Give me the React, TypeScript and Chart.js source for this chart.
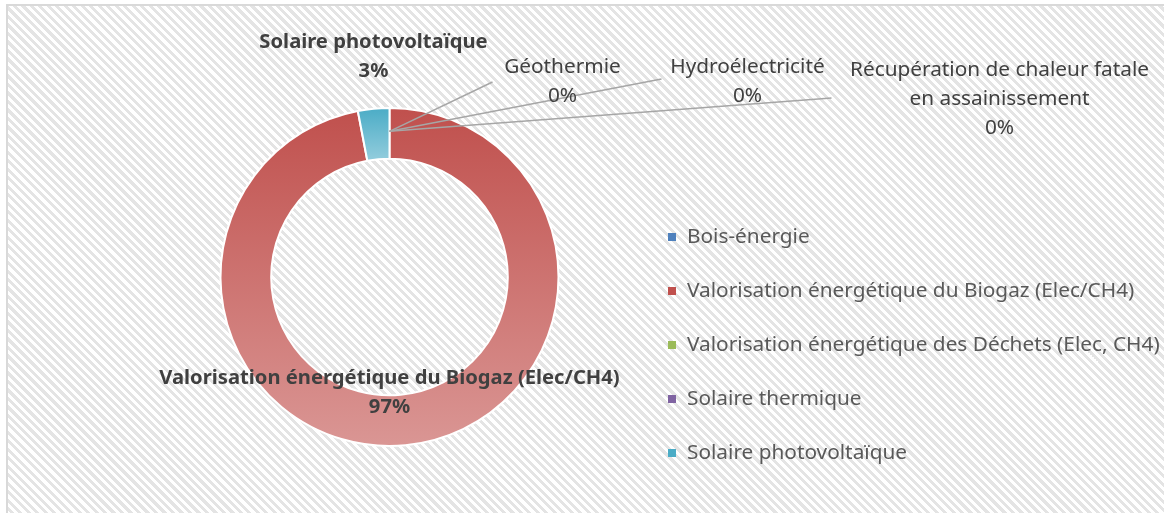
import React, { useEffect, useRef } from "react";
import { Chart, registerables } from "chart.js";

Chart.register(...registerables);

// ---------- data ----------
const categories: string[] = [
  "Bois-énergie",
  "Valorisation énergétique du Biogaz (Elec/CH4)",
  "Valorisation énergétique des Déchets (Elec, CH4)",
  "Solaire thermique",
  "Solaire photovoltaïque",
  "Géothermie",
  "Hydroélectricité",
  "Récupération de chaleur fatale en assainissement",
];
const shares: number[] = [0, 97, 0, 0, 3, 0, 0, 0];
const percentLabels: string[] = ["0%", "97%", "0%", "0%", "3%", "0%", "0%", "0%"];
const legendIndices: number[] = [0, 1, 2, 3, 4];

// ---------- styles ----------
const baseColors = ["#4F81BD", "#C0504D", "#9BBB59", "#8064A2", "#4BACC6", "#F79646", "#2C4D75", "#772C2A"];
const lightColors = ["#95B3D7", "#DA9694", "#C3D69B", "#B2A2C7", "#93CDDD", "#FAC090", "#8EA9CB", "#C9807E"];
const FONT = "'Noto Sans', 'Open Sans', sans-serif";
const LABEL_COLOR = "#404040";
const LEGEND_COLOR = "#595959";
const RADIUS = 169;
const CUTOUT = 0.7;
const REG_SIZE = 20.8;
const BOLD_SIZE = 20.2;

// label placement relative to doughnut centre (text lines, bold, dx, dy of first line, leader end)
type LabelSpec = { idx: number; lines: string[]; bold: boolean; dx: number; dy: number; leader?: [number, number] };
const labelSpecs: LabelSpec[] = [
  { idx: 4, lines: ["Solaire photovoltaïque"], bold: true, dx: -16, dy: -235 },
  { idx: 5, lines: ["Géothermie"], bold: false, dx: 173, dy: -210, leader: [103, -195] },
  { idx: 6, lines: ["Hydroélectricité"], bold: false, dx: 358, dy: -210, leader: [272, -198] },
  { idx: 7, lines: ["Récupération de chaleur fatale", "en assainissement"], bold: false, dx: 610, dy: -207, leader: [442, -179] },
  { idx: 1, lines: ["Valorisation énergétique du Biogaz (Elec/CH4)"], bold: true, dx: 0, dy: 101 },
];
const LINE_H = 29;
const LEGEND_X = 668;
const LEGEND_Y0 = 237;
const LEGEND_STEP = 54;

function sliceAngles(i: number): [number, number] {
  const total = shares.reduce((a, b) => a + b, 0);
  let acc = 0;
  for (let k = 0; k < i; k++) acc += shares[k];
  const s = -Math.PI / 2 + (acc / total) * Math.PI * 2;
  const e = s + (shares[i] / total) * Math.PI * 2;
  return [s, e];
}

function gradientFor(c: any) {
  const i = c.dataIndex;
  const chart = c.chart;
  const area = chart.chartArea;
  if (!area || i === undefined) return baseColors[i] || "#999";
  const cy = (area.top + area.bottom) / 2;
  const [s, e] = sliceAngles(i);
  let minY = Infinity;
  let maxY = -Infinity;
  const steps = 90;
  for (let k = 0; k <= steps; k++) {
    const a = s + ((e - s) * k) / steps;
    for (const rad of [RADIUS, RADIUS * CUTOUT]) {
      const y = cy + rad * Math.sin(a);
      minY = Math.min(minY, y);
      maxY = Math.max(maxY, y);
    }
  }
  if (!(maxY > minY)) return baseColors[i];
  const g = chart.ctx.createLinearGradient(0, minY, 0, maxY);
  g.addColorStop(0, baseColors[i]);
  g.addColorStop(1, lightColors[i]);
  return g;
}

const officePlugin = {
  id: "officeLabels",
  afterDatasetsDraw(chart: any) {
    const ctx = chart.ctx as CanvasRenderingContext2D;
    const meta = chart.getDatasetMeta(0);
    const arcs = meta.data;
    if (!arcs.length) return;
    const cx = arcs[0].x;
    const cy = arcs[0].y;
    ctx.save();
    // leader lines
    ctx.strokeStyle = "#A6A6A6";
    ctx.lineWidth = 1.5;
    for (const spec of labelSpecs) {
      if (!spec.leader) continue;
      const p = arcs[spec.idx].tooltipPosition(false);
      ctx.beginPath();
      ctx.moveTo(p.x, p.y - 2);
      ctx.lineTo(cx + spec.leader[0], cy + spec.leader[1]);
      ctx.stroke();
    }
    // labels
    ctx.textAlign = "center";
    ctx.textBaseline = "middle";
    for (const spec of labelSpecs) {
      ctx.fillStyle = LABEL_COLOR;
      ctx.font = spec.bold ? `bold ${BOLD_SIZE}px ${FONT}` : `${REG_SIZE}px ${FONT}`;
      const lines = [...spec.lines, percentLabels[spec.idx]];
      lines.forEach((t, k) => {
        ctx.fillText(t, cx + spec.dx, cy + spec.dy + k * LINE_H);
      });
    }
    ctx.restore();
  },
  afterDraw(chart: any) {
    const ctx = chart.ctx as CanvasRenderingContext2D;
    ctx.save();
    ctx.textAlign = "left";
    ctx.textBaseline = "middle";
    ctx.font = `${REG_SIZE}px ${FONT}`;
    legendIndices.forEach((idx, k) => {
      const y = LEGEND_Y0 + k * LEGEND_STEP;
      ctx.fillStyle = baseColors[idx];
      ctx.fillRect(LEGEND_X, y - 4, 8, 8);
      ctx.fillStyle = LEGEND_COLOR;
      ctx.fillText(categories[idx], LEGEND_X + 19, y);
    });
    ctx.restore();
  },
};

export default function App() {
  const ref = useRef<HTMLCanvasElement | null>(null);
  useEffect(() => {
    if (!ref.current) return;
    const chart = new Chart(ref.current, {
      type: "doughnut",
      data: {
        labels: categories,
        datasets: [
          {
            data: shares,
            backgroundColor: gradientFor as any,
            borderColor: "#FFFFFF",
            borderWidth: 2,
          },
        ],
      },
      options: {
        responsive: false,
        animation: false,
        radius: RADIUS,
        cutout: `${CUTOUT * 100}%`,
        layout: { padding: { left: 0, right: 385, top: 107, bottom: 66 } },
        plugins: {
          legend: { display: false },
          tooltip: { enabled: false },
        },
      } as any,
      plugins: [officePlugin],
    });
    return () => chart.destroy();
  }, []);

  return (
    <div style={{ position: "fixed", left: 0, top: 0, width: 1164, height: 513, overflow: "hidden", background: "#fff" }}>
      <div
        style={{
          position: "absolute",
          left: 6,
          top: 4,
          width: 1200,
          height: 560,
          border: "2px solid #D9D9D9",
          background: "repeating-linear-gradient(45deg, #ffffff 0px, #ffffff 3px, #e4e4e4 3px, #e4e4e4 6px)",
        }}
      />
      <canvas ref={ref} width={1164} height={513} style={{ position: "absolute", left: 0, top: 0, width: 1164, height: 513 }} />
    </div>
  );
}
